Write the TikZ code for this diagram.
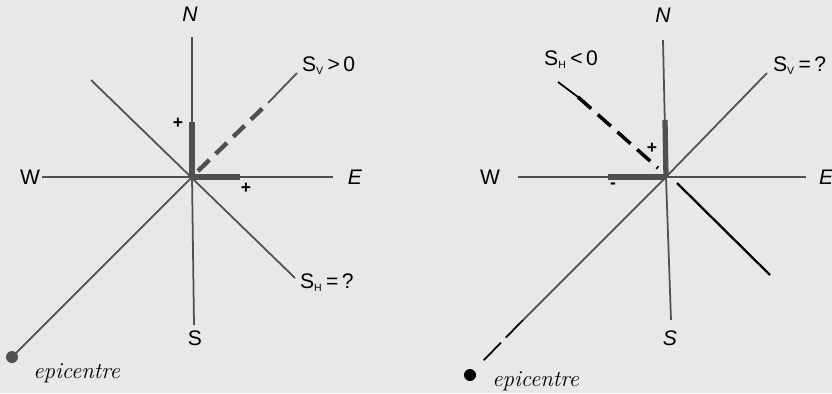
\documentclass[tikz,border=0pt]{standalone}
\usepackage{fontspec}
\setsansfont{Liberation Sans}
\definecolor{paper}{RGB}{232,232,232}
\definecolor{ink}{RGB}{80,80,80}
\begin{document}
\begin{tikzpicture}[x=0.02cm, y=-0.02cm,
    axis/.style={ink, line width=1pt},
    signbar/.style={ink, line width=3pt},
    heavydash/.style={ink, line width=2.5pt, dash pattern=on 9pt off 5pt},
    lbl/.style={inner sep=1pt, font=\sffamily\large},
    sgn/.style={inner sep=0pt, font=\sffamily\bfseries},
    eplbl/.style={anchor=west, inner sep=0pt, font=\fontsize{13}{15}\selectfont\itshape}]
    % background, fixes the size
    \fill[paper] (0,0) rectangle (832,393);
    \useasboundingbox (0,0) rectangle (832,393);

    % ---------- Left rose ----------
    \coordinate (O1) at (192,177);
    \node[lbl] (N1) at (190,14) {\textit{N}};
    \node[lbl] (S1) at (195,338) {S};
    \node[lbl] (W1) at (30,177) {W};
    \node[lbl] (E1) at (355,177) {\textit{E}};
    \node[lbl, anchor=west] (Sv1) at (300,66) {S$_{\scriptscriptstyle\mathsf{V}}$\,>\,0};
    \node[lbl, anchor=west] (Sh1) at (298,283) {S$_{\scriptscriptstyle\mathsf{H}}$\,=\,?};
    \fill[ink] (12,357) circle (6) coordinate (ep1);
    \node[eplbl] (epl1) at (33,373) {epicentre};

    % compass lines
    \draw[axis] (O1) -- (192,37);
    \draw[axis] (O1) -- (194,325);
    \draw[axis] (42,177) -- (333,177);
    \draw[axis] (91,80) -- (295,278);
    \draw[axis] (O1) -- (ep1);

    % sign bars and the vertical component (dashed)
    \draw[signbar] (O1) -- (192,122);
    \draw[signbar] (O1) -- (240,177);
    \draw[heavydash] (198,171) -- (268,103);
    \draw[axis] (268,103) -- (297,73);
    \node[sgn] (p1a) at (178,123) {+};
    \node[sgn] (p1b) at (246,188) {+};

    % ---------- Right rose ----------
    \coordinate (O2) at (666,177);
    \node[lbl] (N2) at (663,15) {\textit{N}};
    \node[lbl] (S2) at (670,338) {\textit{S}};
    \node[lbl] (W2) at (490,177) {W};
    \node[lbl, anchor=west] (E2) at (817,177) {\textit{E}};
    \node[lbl, anchor=west] (Sv2) at (771,66) {S$_{\scriptscriptstyle\mathsf{V}}$\,=\,?};
    \node[lbl] (Sh2) at (571,60) {S$_{\scriptscriptstyle\mathsf{H}}$\,<\,0};
    \fill[black] (470,375) circle (6) coordinate (ep2);
    \node[eplbl] (epl2) at (492,381) {epicentre};

    % compass lines
    \draw[axis] (O2) -- (663,40);
    \draw[axis] (O2) -- (671,320);
    \draw[axis] (518,177) -- (806,177);
    \draw[axis] (O2) -- (767,73);
    \draw[axis] (O2) -- (523,320);
    \draw[black, line width=1pt, dash pattern=on 14pt off 4pt] (523,320) -- (482,362);
    \draw[black, line width=1.3pt] (677,183) -- (770,275);

    % sign bars and the horizontal component (dashed)
    \draw[signbar] (O2) -- (665,120);
    \draw[signbar] (O2) -- (608,177);
    \draw[black, line width=1pt] (558,82) -- (578,97);
    \draw[black, line width=2pt, dash pattern=on 10pt off 5pt] (578,97) -- (658,168);
    \node[sgn] (p2) at (652,148) {+};
    \node[sgn] (m2) at (613,186) {-};
\end{tikzpicture}
\end{document}
